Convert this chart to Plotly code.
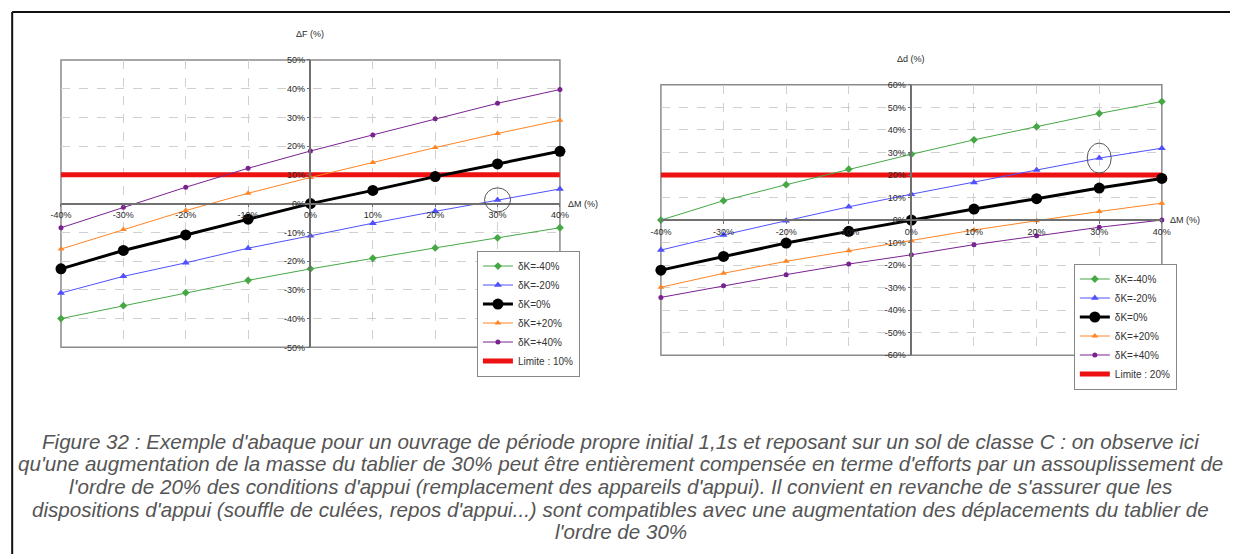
import plotly.graph_objects as go

W, H = 1239, 559

# ---------------- data ----------------
dM = [-40, -30, -20, -10, 0, 10, 20, 30, 40]
xtick_vals = [-40, -30, -20, -10, 0, 10, 20, 30, 40]
xtick_text = ["-40%", "-30%", "-20%", "-10%", "0%", "10%", "20%", "30%", "40%"]
yF_vals = [-50, -40, -30, -20, -10, 0, 10, 20, 30, 40, 50]
yF_text = ["-50%", "-40%", "-30%", "-20%", "-10%", "0%", "10%", "20%", "30%", "40%", "50%"]
yd_vals = [-60, -50, -40, -30, -20, -10, 0, 10, 20, 30, 40, 50, 60]
yd_text = ["-60%", "-50%", "-40%", "-30%", "-20%", "-10%", "0%", "10%", "20%", "30%", "40%", "50%", "60%"]

series_names = ["δK=-40%", "δK=-20%", "δK=0%", "δK=+20%", "δK=+40%"]

# Left chart: force variation dF (%)
dF_m40 = [-40.0, -35.5, -31.0, -26.7, -22.7, -19.0, -15.4, -11.9, -8.4]
dF_m20 = [-31.1, -25.3, -20.6, -15.5, -11.2, -6.8, -2.7, 1.3, 5.1]
dF_0 = [-22.7, -16.3, -10.9, -5.4, 0.0, 4.6, 9.4, 13.8, 18.2]
dF_p20 = [-15.8, -9.0, -2.4, 3.6, 9.1, 14.3, 19.5, 24.4, 29.0]
dF_p40 = [-8.4, -1.3, 5.7, 12.3, 18.3, 23.9, 29.5, 34.9, 39.7]
limit_F = 10

# Right chart: displacement variation dd (%)
dd_m40 = [0.0, 8.6, 15.7, 22.6, 29.2, 35.6, 41.4, 47.3, 52.6]
dd_m20 = [-13.3, -6.6, -0.3, 5.9, 11.5, 16.7, 22.2, 27.5, 31.9]
dd_0 = [-22.2, -16.1, -10.2, -5.0, 0.0, 4.9, 9.5, 14.2, 18.5]
dd_p20 = [-29.8, -23.6, -18.3, -13.6, -9.2, -4.4, -0.3, 3.8, 7.5]
dd_p40 = [-34.3, -29.1, -24.2, -19.5, -15.4, -10.9, -6.9, -3.2, 0.0]
limit_d = 20

caption_lines = [
    "Figure 32 : Exemple d'abaque pour un ouvrage de période propre initial 1,1s et reposant sur un sol de classe C : on observe ici",
    "qu'une augmentation de la masse du tablier de 30% peut être entièrement compensée en terme d'efforts par un assouplissement de",
    "l'ordre de 20% des conditions d'appui (remplacement des appareils d'appui). Il convient en revanche de s'assurer que les",
    "dispositions d'appui (souffle de culées, repos d'appui...) sont compatibles avec une augmentation des déplacements du tablier de",
    "l'ordre de 30%",
]

# ---------------- styles ----------------
styles = [
    dict(color="#45a845", symbol="diamond", size=6, width=1),
    dict(color="#5050ff", symbol="triangle-up", size=7, width=1),
    dict(color="#000000", symbol="circle", size=11, width=3),
    dict(color="#ff8424", symbol="triangle-up", size=6, width=1),
    dict(color="#7a2290", symbol="circle", size=5, width=1),
]

# screen-space calibration (observed capture: scale and offset)
S, OX, OY = 0.984, 11.0, 4.0

def px_x(p):
    return ((p - OX) / S) / W

def px_y(p):
    return 1 - ((p - OY) / S) / H

fig = go.Figure()

def add_chart(xa, ya, legend, series, limit, limit_name):
    # limit line drawn first (under the curves), listed last in the legend
    fig.add_trace(go.Scatter(
        x=[dM[0], dM[-1]], y=[limit, limit], name=limit_name, mode="lines",
        xaxis=xa, yaxis=ya, legend=legend, cliponaxis=False, legendrank=1006,
        line=dict(color="#ee1111", width=5),
    ))
    for i, (name, vals, st) in enumerate(zip(series_names, series, styles)):
        fig.add_trace(go.Scatter(
            x=dM, y=vals, name=name, mode="lines+markers",
            xaxis=xa, yaxis=ya, legend=legend, cliponaxis=False, legendrank=1000 + i,
            line=dict(color=st["color"], width=st["width"]),
            marker=dict(color=st["color"], symbol=st["symbol"], size=st["size"]),
        ))

add_chart("x", "y", "legend", [dF_m40, dF_m20, dF_0, dF_p20, dF_p40], limit_F, "Limite : 10%")
add_chart("x2", "y2", "legend2", [dd_m40, dd_m20, dd_0, dd_p20, dd_p40], limit_d, "Limite : 20%")

L_dom_x = [px_x(61), px_x(560)]
L_dom_y = [px_y(347), px_y(59)]
R_dom_x = [px_x(661), px_x(1162)]
R_dom_y = [px_y(355), px_y(84)]

tickfont = dict(family="Liberation Sans, Arial, sans-serif", size=9, color="#2a2a2a")

def xaxis_cfg(dom, pos):
    return dict(domain=dom, range=[-40, 40], anchor="free", position=pos,
                tickvals=xtick_vals, ticktext=xtick_text, tickfont=tickfont,
                showline=True, linecolor="#707070", linewidth=1.5,
                ticks="outside", ticklen=3, tickcolor="#707070",
                showgrid=True, gridcolor="#d0d0d0", griddash="dash", gridwidth=1,
                zeroline=False, fixedrange=True)

def yaxis_cfg(dom, pos, rng, vals, text):
    return dict(domain=dom, range=rng, anchor="free", position=pos,
                tickvals=vals, ticktext=text, tickfont=tickfont,
                showline=True, linecolor="#707070", linewidth=1.5,
                ticks="outside", ticklen=3, tickcolor="#707070",
                showgrid=True, gridcolor="#d0d0d0", griddash="dash", gridwidth=1,
                zeroline=False, fixedrange=True)

legfont = dict(family="Liberation Sans, Arial, sans-serif", size=10, color="#333333")
fig.update_layout(
    width=W, height=H,
    margin=dict(l=0, r=0, t=0, b=0),
    paper_bgcolor="white", plot_bgcolor="white",
    font=dict(family="Liberation Sans, Arial, sans-serif", color="#333333"),
    xaxis=xaxis_cfg(L_dom_x, sum(L_dom_y) / 2),
    yaxis=yaxis_cfg(L_dom_y, sum(L_dom_x) / 2, [-50, 50], yF_vals, yF_text),
    xaxis2=xaxis_cfg(R_dom_x, sum(R_dom_y) / 2),
    yaxis2=yaxis_cfg(R_dom_y, sum(R_dom_x) / 2, [-60, 60], yd_vals, yd_text),
    legend=dict(x=px_x(477), y=px_y(250), xanchor="left", yanchor="top",
                bgcolor="white", bordercolor="#888888", borderwidth=1,
                font=legfont, tracegroupgap=0, itemwidth=30, traceorder="normal"),
    legend2=dict(x=px_x(1074), y=px_y(263), xanchor="left", yanchor="top",
                 bgcolor="white", bordercolor="#888888", borderwidth=1,
                 font=legfont, tracegroupgap=0, itemwidth=30, traceorder="normal"),
    showlegend=True,
    hovermode=False,
)

shapes = []
for xr, yr in (("x domain", "y domain"), ("x2 domain", "y2 domain")):
    shapes.append(dict(type="rect", xref=xr, yref=yr, x0=0, x1=1, y0=0, y1=1,
                       line=dict(color="#8a8a8a", width=1.5), layer="below"))
shapes.append(dict(type="circle", xref="x", yref="y", xsizemode="pixel", ysizemode="pixel",
                   xanchor=dM[7], yanchor=dF_m20[7], x0=-13, x1=13, y0=-12, y1=12,
                   line=dict(color="#555555", width=1)))
shapes.append(dict(type="circle", xref="x2", yref="y2", xsizemode="pixel", ysizemode="pixel",
                   xanchor=dM[7], yanchor=dd_m20[7], x0=-12, x1=12, y0=-15, y1=15,
                   line=dict(color="#555555", width=1)))
# outer page frame: left and top edges only (kept inside the paper)
fx, fy = max(px_x(11), 1.2 / W), min(px_y(11), 1 - 1.2 / H)
shapes.append(dict(type="line", xref="paper", yref="paper",
                   x0=fx, x1=fx, y0=0, y1=fy, line=dict(color="#111111", width=2)))
shapes.append(dict(type="line", xref="paper", yref="paper",
                   x0=fx, x1=1, y0=fy, y1=fy, line=dict(color="#111111", width=2)))
fig.update_layout(shapes=shapes)

annots = []
axfont = dict(family="Liberation Sans, Arial, sans-serif", size=9, color="#2a2a2a")
annots.append(dict(text="ΔF (%)", xref="x", yref="paper", x=0, y=px_y(33),
                   showarrow=False, font=axfont, xanchor="center", yanchor="middle"))
annots.append(dict(text="ΔM (%)", xref="x domain", yref="y", x=1, y=0, xshift=6,
                   showarrow=False, font=axfont, xanchor="left", yanchor="middle"))
annots.append(dict(text="Δd (%)", xref="x2", yref="paper", x=0, y=px_y(58),
                   showarrow=False, font=axfont, xanchor="center", yanchor="middle"))
annots.append(dict(text="ΔM (%)", xref="x2 domain", yref="y2", x=1, y=0, xshift=6,
                   showarrow=False, font=axfont, xanchor="left", yanchor="middle"))

cap_y = [441, 463, 486, 509, 532]
for line, yy in zip(caption_lines, cap_y):
    annots.append(dict(text="<i>" + line + "</i>", xref="paper", yref="paper",
                       x=px_x(621), y=px_y(yy), showarrow=False, xanchor="center", yanchor="middle",
                       font=dict(family="Liberation Sans, Arial, sans-serif", size=20.6, color="#555555")))
fig.update_layout(annotations=annots)

fig.write_html("out.html", config={"displayModeBar": False},
               post_script="document.body.style.margin='0';document.body.style.overflow='hidden';")
